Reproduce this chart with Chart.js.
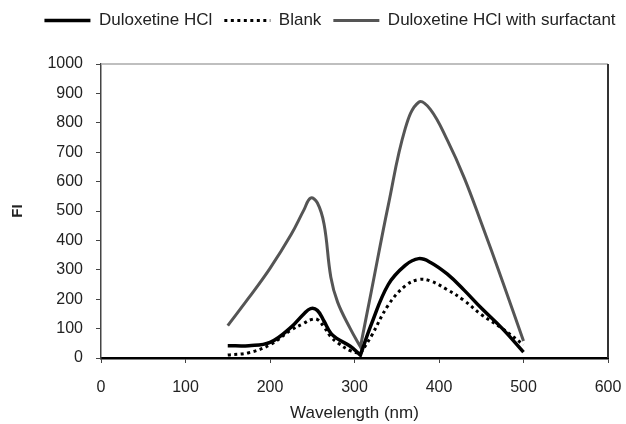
<!DOCTYPE html>
<html>
<head>
<meta charset="utf-8">
<script src="https://cdn.jsdelivr.net/npm/chart.js@4.4.1/dist/chart.umd.min.js"></script>
<style>
  html, body { margin: 0; padding: 0; background: #fff; }
</style>
</head>
<body>
<canvas id="fiChart" width="626" height="424"></canvas>
<script>
// wavelength (nm); 307 twice so the dip stays sharp
const wavelengths = [150, 175, 200, 225, 240, 248, 256, 264, 272, 280, 295, 307, 307, 320, 340, 360, 376, 390, 410, 430, 450, 475, 500];
const duloxetine  = [42, 42, 53, 105, 150, 168, 162, 125, 84, 65, 40, 10, 10, 115, 250, 315, 338, 325, 285, 230, 170, 100, 20];
const blank       = [10, 18, 45, 95, 118, 130, 131, 105, 72, 52, 25, 15, 15, 75, 180, 245, 267, 262, 232, 195, 148, 100, 45];
const surfactant  = [110, 205, 305, 420, 503, 544, 528, 455, 275, 190, 100, 38, 38, 228, 520, 780, 870, 845, 740, 612, 460, 262, 58];

const xTicks = [0, 100, 200, 300, 400, 500, 600];
const yTicks = [0, 100, 200, 300, 400, 500, 600, 700, 800, 900, 1000];

const font = 'Liberation Sans, Arial, sans-serif';

function points(values) {
  return wavelengths.map((x, i) => ({ x: x, y: values[i] }));
}

const framePlugin = {
  id: 'frame',
  afterInit(chart) {
    // legend box takes the whole strip above the plot
    const fit = chart.legend.fit;
    chart.legend.fit = function () { fit.call(this); this.height = 64; };
  },
  afterLayout(chart) {
    chart.legend.left += 17;
    chart.legend.right += 17;
  },
  beforeDatasetsDraw(chart) {
    const a = chart.chartArea;
    const ctx = chart.ctx;
    ctx.save();
    ctx.strokeStyle = '#aaaaaa';
    ctx.lineWidth = 1.5;
    ctx.beginPath();
    ctx.moveTo(a.left, a.top);
    ctx.lineTo(a.right, a.top);
    ctx.stroke();
    ctx.strokeStyle = '#333333';
    ctx.lineWidth = 2;
    ctx.beginPath();
    ctx.moveTo(a.right, a.top);
    ctx.lineTo(a.right, a.bottom);
    ctx.stroke();
    ctx.restore();
  }
};

const ctx = document.getElementById('fiChart').getContext('2d');
new Chart(ctx, {
  type: 'line',
  data: {
    datasets: [{
      label: 'Duloxetine HCl',
      data: points(duloxetine),
      borderColor: '#000000',
      borderWidth: 3.5,
      tension: 0.4,
      pointRadius: 0
    }, {
      label: 'Blank',
      data: points(blank),
      borderColor: '#000000',
      borderWidth: 3,
      borderDash: [3, 3.5],
      tension: 0.4,
      pointRadius: 0
    }, {
      label: 'Duloxetine HCl with surfactant',
      data: points(surfactant),
      borderColor: '#555555',
      borderWidth: 3,
      tension: 0.4,
      pointRadius: 0
    }]
  },
  options: {
    responsive: false,
    animation: false,
    devicePixelRatio: 1,
    plugins: {
      legend: {
        position: 'top',
        labels: {
          usePointStyle: true,
          pointStyle: 'line',
          pointStyleWidth: 46,
          padding: 12,
          color: '#222',
          font: { family: font, size: 17 },
          generateLabels: (chart) => {
            const items = Chart.defaults.plugins.legend.labels.generateLabels(chart);
            items.forEach((item) => {
              const ds = chart.data.datasets[item.datasetIndex];
              item.lineDash = ds.borderDash || [];
              item.lineWidth = ds.borderWidth;
              item.strokeStyle = ds.borderColor;
            });
            return items;
          }
        }
      },
      tooltip: { enabled: false }
    },
    scales: {
      x: {
        type: 'linear',
        min: 0,
        max: 600,
        afterBuildTicks: (scale) => { scale.ticks = xTicks.map(v => ({ value: v })); },
        afterFit: (scale) => { scale.height = 66; scale.paddingRight = 18; scale.paddingLeft = 0; },
        grid: { drawOnChartArea: false, drawTicks: true, tickLength: 5, color: '#444' },
        border: { color: '#000', width: 2.5 },
        ticks: { padding: 15, color: '#222', font: { family: font, size: 16 }, callback: (v) => String(v) },
        title: {
          display: true,
          text: 'Wavelength (nm)',
          color: '#222',
          padding: { top: 0, bottom: 0 },
          font: { family: font, size: 17 }
        }
      },
      y: {
        min: 0,
        max: 1000,
        afterBuildTicks: (scale) => { scale.ticks = yTicks.map(v => ({ value: v })); },
        afterFit: (scale) => { scale.width = 101; },
        grid: { drawOnChartArea: false, drawTicks: true, tickLength: 5, color: '#444' },
        border: { color: '#444', width: 1.5 },
        ticks: { padding: 13, color: '#222', font: { family: font, size: 16 }, callback: (v) => String(v) },
        title: {
          display: true,
          text: 'FI',
          color: '#222',
          padding: { top: 9, bottom: 0 },
          font: { family: font, size: 15, weight: 'bold' }
        }
      }
    }
  },
  plugins: [framePlugin]
});
</script>
</body>
</html>
